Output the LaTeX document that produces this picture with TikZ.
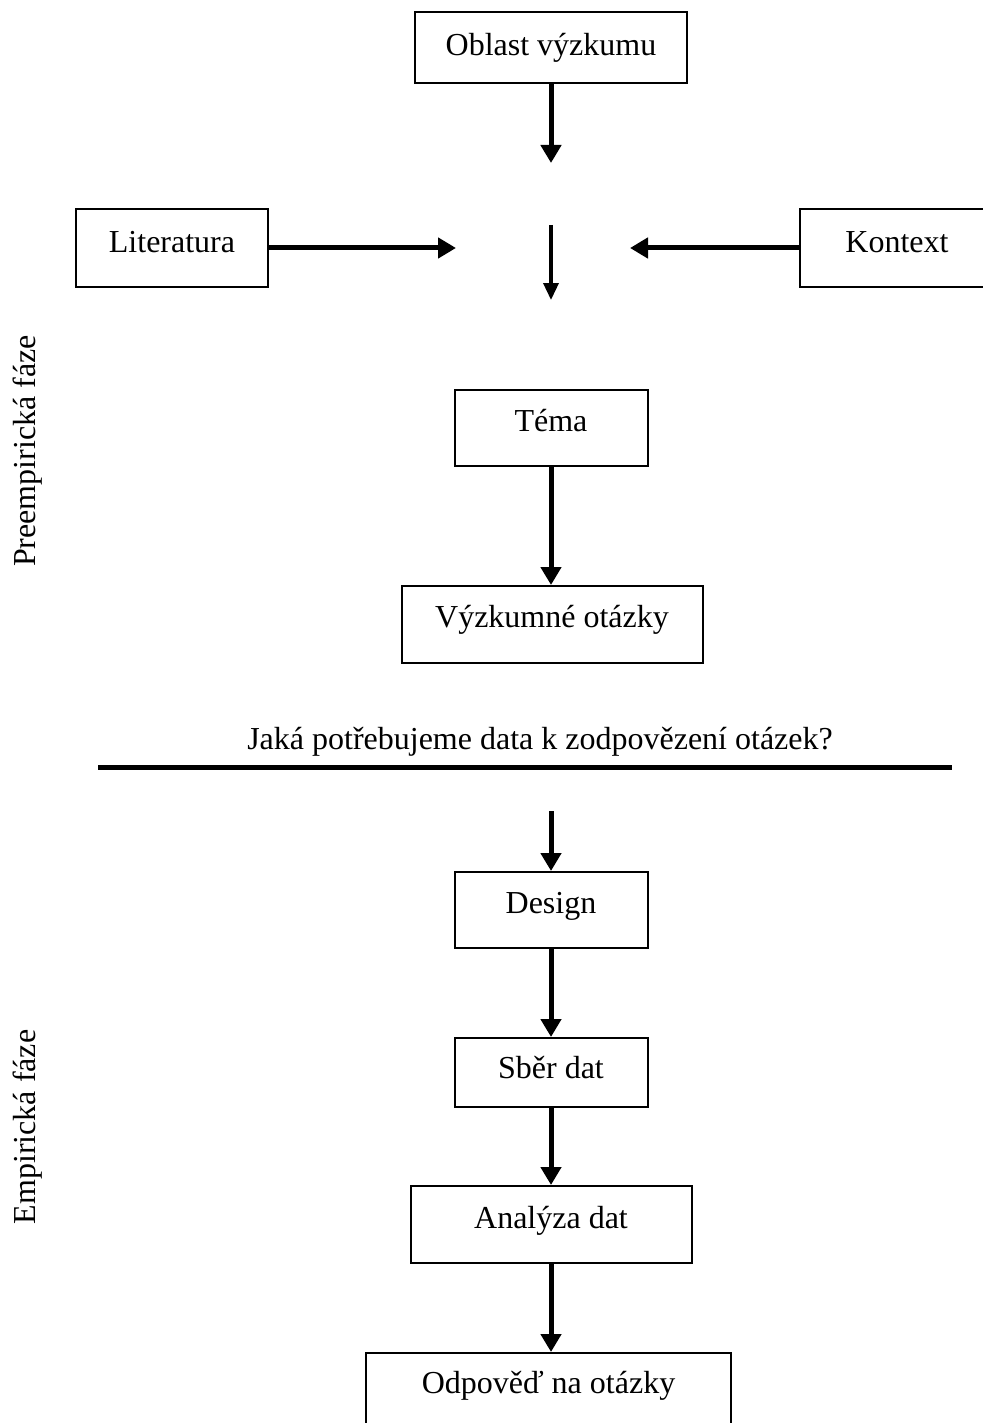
\documentclass[tikz,border=0pt]{standalone}
\usepackage{fontspec}
\setmainfont{Liberation Serif}
\usetikzlibrary{arrows.meta}
\begin{document}
\begin{tikzpicture}[x=1pt,y=-1pt,
  every node/.style={font=\fontsize{32}{38}\selectfont},
  boxnode/.style={draw,line width=2pt,inner sep=0pt},
  flowarrow/.style={line width=5pt,-{Triangle[length=18pt,width=20pt]}},
  thinarrow/.style={line width=3.5pt,-{Triangle[length=17pt,width=15pt]}},
  sidelabel/.style={rotate=90,inner sep=0pt}]
\useasboundingbox (0,0) rectangle (982,1423);
% boxes
\node[boxnode,minimum width=272pt,minimum height=71pt] (oblast) at (551,47.5) {Oblast výzkumu};
\node[boxnode,minimum width=192pt,minimum height=78pt] (lit) at (172,248) {\raisebox{12pt}{Literatura}};
\node[boxnode,minimum width=194pt,minimum height=78pt] (kon) at (897,248) {\raisebox{12pt}{Kontext}};
\node[boxnode,minimum width=193pt,minimum height=76pt] (tema) at (551,428) {\raisebox{16pt}{Téma}};
\node[boxnode,minimum width=301pt,minimum height=77pt] (vo) at (552,624.5) {\raisebox{16pt}{Výzkumné otázky}};
\node[boxnode,minimum width=193pt,minimum height=76pt] (design) at (551,910) {\raisebox{14pt}{Design}};
\node[boxnode,minimum width=193pt,minimum height=69pt] (sber) at (551,1072.5) {\raisebox{11pt}{Sběr dat}};
\node[boxnode,minimum width=281pt,minimum height=77pt] (analyza) at (551,1224.5) {\raisebox{14pt}{Analýza dat}};
\node[boxnode,minimum width=365pt,minimum height=78pt,anchor=north] (odp) at (548.5,1352) {\raisebox{19pt}{Odpověď na otázky}};
% free ends
\coordinate (oblastEnd) at (551,163);
\coordinate (litEnd) at (456,248);
\coordinate (konEnd) at (630,248);
\coordinate (midStart) at (551,225);
\coordinate (midEnd) at (551,300);
\coordinate (empStart) at (551,811);
\coordinate (sepL) at (98,767);
\coordinate (sepR) at (952,767);
% connectors
\draw[flowarrow] (oblast.south) -- (oblastEnd);
\draw[flowarrow] (lit.east) -- (litEnd);
\draw[flowarrow] (kon.west) -- (konEnd);
\draw[thinarrow] (midStart) -- (midEnd);
\draw[flowarrow] (tema.south) -- (tema.south |- vo.north);
\draw[flowarrow] (empStart) -- (design.north);
\draw[flowarrow] (design.south) -- (sber.north);
\draw[flowarrow] (sber.south) -- (analyza.north);
\draw[flowarrow] (analyza.south) -- (analyza.south |- odp.north);
% separator and question
\draw[line width=5pt] (sepL) -- (sepR);
\node (question) at (540,742) {Jaká potřebujeme data k zodpovězení otázek?};
% side labels
\node[sidelabel] (pre) at (28,451) {Preempirická fáze};
\node[sidelabel] (emp) at (28,1127) {Empirická fáze};
\end{tikzpicture}
\end{document}
